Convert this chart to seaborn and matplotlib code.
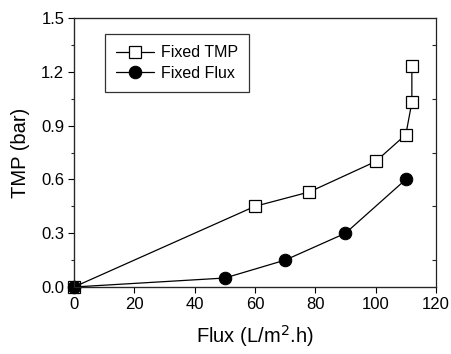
import pandas as pd
import seaborn as sns
import matplotlib.pyplot as plt
from matplotlib.ticker import MultipleLocator, FixedLocator

# Data
tmp_flux = [0, 60, 78, 100, 110, 112, 112]
tmp_tmp = [0.0, 0.45, 0.53, 0.70, 0.85, 1.03, 1.23]
flux_flux = [0, 50, 70, 90, 110]
flux_tmp = [0.0, 0.05, 0.15, 0.30, 0.60]

df_tmp = pd.DataFrame({'flux': tmp_flux, 'tmp': tmp_tmp})
df_flux = pd.DataFrame({'flux': flux_flux, 'tmp': flux_tmp})

sns.set_style('ticks')
plt.rcParams['font.family'] = ['Liberation Sans', 'DejaVu Sans']
plt.rcParams['text.color'] = 'black'
plt.rcParams['axes.labelcolor'] = 'black'

fig = plt.figure(figsize=(4.52, 3.54), dpi=100)
ax = fig.add_axes([0.1637, 0.1893, 0.8009, 0.7597])

sns.lineplot(data=df_tmp, x='flux', y='tmp', sort=False, estimator=None, ax=ax,
             color='black', lw=0.9, marker='s', markersize=8, markerfacecolor='white',
             markeredgecolor='black', markeredgewidth=0.9, label='Fixed TMP',
             zorder=3, clip_on=False)
sns.lineplot(data=df_flux, x='flux', y='tmp', sort=False, estimator=None, ax=ax,
             color='black', lw=0.9, marker='o', markersize=9, markerfacecolor='black',
             markeredgecolor='black', label='Fixed Flux', zorder=4, clip_on=False)

ax.set_xlim(0, 120)
ax.set_ylim(0, 1.5)
ax.xaxis.set_major_locator(MultipleLocator(20))
ax.yaxis.set_major_locator(MultipleLocator(0.3))
ax.yaxis.set_minor_locator(MultipleLocator(0.15))
ax.yaxis.set_major_formatter(plt.FuncFormatter(lambda v, p: f'{v:.1f}'))
ax.tick_params(axis='both', which='major', direction='out', length=4, width=0.8,
               labelsize=12, colors='black', pad=3)
ax.tick_params(axis='y', which='minor', direction='out', length=2.5, width=0.8)

for s in ax.spines.values():
    s.set_visible(True)
    s.set_color('#222222')
    s.set_linewidth(0.9)

# inner ticks on right side at odd positions
ax2 = ax.twinx()
ax2.set_ylim(0, 1.5)
ax2.yaxis.set_major_locator(FixedLocator([0.15, 0.45, 0.75, 1.05, 1.35]))
ax2.tick_params(axis='y', direction='in', length=3, width=0.8, labelright=False)
ax2.spines['right'].set_visible(False)

ax.set_xlabel(r'Flux (L/m$^2$.h)', fontsize=14.5, labelpad=8)
ax.set_ylabel('TMP (bar)', fontsize=14.5, labelpad=8)

leg = ax.legend(loc='upper left', bbox_to_anchor=(0.085, 0.94), fontsize=11.5,
                frameon=True, fancybox=False, edgecolor='#333333', framealpha=1,
                handlelength=2.4, borderpad=0.7, labelspacing=0.35, handletextpad=0.4,
                borderaxespad=0)
leg.get_frame().set_linewidth(0.9)

fig.savefig('out.png', dpi=100)
